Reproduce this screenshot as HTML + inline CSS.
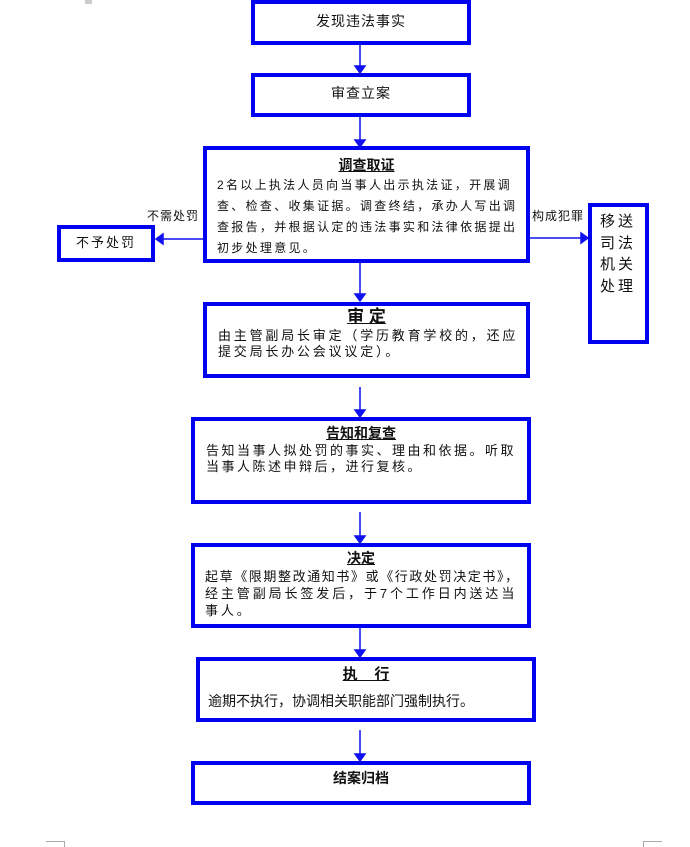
<!DOCTYPE html>
<html><head><meta charset="utf-8"><style>
body{margin:0;width:690px;height:846px;background:#fff;position:relative;overflow:hidden;font-family:"Liberation Sans","Noto Sans CJK SC","WenQuanYi Zen Hei",sans-serif;color:#111}
.b{position:absolute;border:4px solid #0000f0;box-sizing:border-box}
.t{position:absolute;white-space:nowrap;font-size:13px;line-height:16px}
.h{position:absolute;white-space:nowrap;font-weight:bold;text-decoration:underline;font-size:14px;line-height:16px}
</style></head><body>
<div style="position:absolute;left:85px;top:0;width:7px;height:4px;background:#ccc"></div>
<div style="position:absolute;left:46px;top:841px;width:18px;height:5px;border-top:1px solid #aaa;border-right:1px solid #aaa"></div>
<div style="position:absolute;left:643px;top:841px;width:18px;height:5px;border-top:1px solid #aaa;border-left:1px solid #aaa"></div>

<svg width="690" height="846" style="position:absolute;left:0;top:0">
<g stroke="#1010f0" stroke-width="1.5" fill="#1010f0">
<line x1="360" y1="45" x2="360" y2="67"/><polygon points="355,66 365,66 360,73"/>
<line x1="360" y1="117" x2="360" y2="141"/><polygon points="355,140 365,140 360,147"/>
<line x1="360" y1="263" x2="360" y2="295"/><polygon points="355,294 365,294 360,301"/>
<line x1="360" y1="387" x2="360" y2="411"/><polygon points="355,410 365,410 360,417"/>
<line x1="360" y1="512" x2="360" y2="537"/><polygon points="355,536 365,536 360,543"/>
<line x1="360" y1="628" x2="360" y2="651"/><polygon points="355,650 365,650 360,657"/>
<line x1="360" y1="730" x2="360" y2="755"/><polygon points="355,754 365,754 360,761"/>
<line x1="204" y1="239" x2="162" y2="239"/><polygon points="163,234 163,244 156,239"/>
<line x1="530" y1="238" x2="582" y2="238"/><polygon points="581,233 581,243 588,238"/>
</g></svg>

<div class="b" style="left:251px;top:0;width:220px;height:45px"></div>
<div class="t" style="left:251px;width:220px;text-align:center;top:13px;font-size:14px;letter-spacing:1px">发现违法事实</div>
<div class="b" style="left:251px;top:73px;width:220px;height:44px"></div>
<div class="t" style="left:251px;width:220px;text-align:center;top:85px;font-size:14px;letter-spacing:1px">审查立案</div>

<div class="b" style="left:203px;top:146px;width:327px;height:117px"></div>
<div class="h" style="left:203px;width:327px;text-align:center;top:157px">调查取证</div>
<div class="t" style="left:217px;top:177px;font-size:12px;letter-spacing:2.3px">2名以上执法人员向当事人出示执法证，开展调</div>
<div class="t" style="left:217px;top:198px;font-size:12px;letter-spacing:2.3px">查、检查、收集证据。调查终结，承办人写出调</div>
<div class="t" style="left:217px;top:219px;font-size:12px;letter-spacing:2.3px">查报告，并根据认定的违法事实和法律依据提出</div>
<div class="t" style="left:217px;top:240px;font-size:12px;letter-spacing:2.3px">初步处理意见。</div>

<div class="t" style="left:147px;top:208px;font-size:12px;letter-spacing:1px">不需处罚</div>
<div class="b" style="left:57px;top:225px;width:98px;height:37px"></div>
<div class="t" style="left:57px;width:98px;text-align:center;top:235px;letter-spacing:2px">不予处罚</div>

<div class="t" style="left:532px;top:208px;font-size:12px;letter-spacing:1px">构成犯罪</div>
<div class="b" style="left:588px;top:203px;width:61px;height:141px"></div>
<div class="t" style="left:600px;top:211px;font-size:15px;line-height:21.5px;white-space:normal;width:40px;letter-spacing:3px">移送<br>司法<br>机关<br>处理</div>

<div class="b" style="left:203px;top:302px;width:327px;height:76px"></div>
<div class="h" style="left:203px;width:327px;text-align:center;top:308px;font-size:17px;line-height:18px">审 定</div>
<div class="t" style="left:218px;top:328px;letter-spacing:2.8px">由主管副局长审定（学历教育学校的，还应</div>
<div class="t" style="left:218px;top:344px;letter-spacing:2.8px">提交局长办公会议议定）。</div>

<div class="b" style="left:191px;top:417px;width:340px;height:87px"></div>
<div class="h" style="left:191px;width:340px;text-align:center;top:425px">告知和复查</div>
<div class="t" style="left:206px;top:443px;letter-spacing:2.5px">告知当事人拟处罚的事实、理由和依据。听取</div>
<div class="t" style="left:206px;top:459px;letter-spacing:2.5px">当事人陈述申辩后，进行复核。</div>

<div class="b" style="left:191px;top:543px;width:340px;height:85px"></div>
<div class="h" style="left:191px;width:340px;text-align:center;top:550px">决定</div>
<div class="t" style="left:205px;top:569px;letter-spacing:1.6px">起草《限期整改通知书》或《行政处罚决定书》，</div>
<div class="t" style="left:205px;top:586px;letter-spacing:2.9px">经主管副局长签发后，于7个工作日内送达当</div>
<div class="t" style="left:205px;top:603px;letter-spacing:2.9px">事人。</div>

<div class="b" style="left:196px;top:657px;width:340px;height:65px"></div>
<div class="h" style="left:196px;width:340px;text-align:center;top:667px;font-size:15px;white-space:pre">执    行</div>
<div class="t" style="left:208px;top:693px;font-size:14px">逾期不执行，协调相关职能部门强制执行。</div>

<div class="b" style="left:191px;top:761px;width:340px;height:44px"></div>
<div class="t" style="left:191px;width:340px;text-align:center;top:770px;font-weight:bold;font-size:14px">结案归档</div>
</body></html>
